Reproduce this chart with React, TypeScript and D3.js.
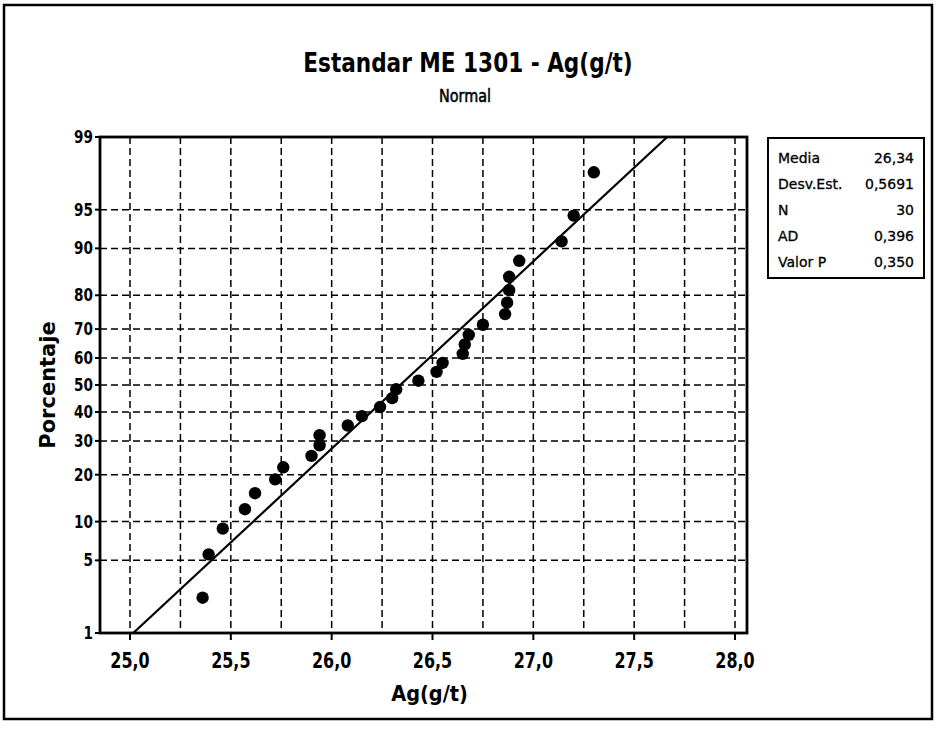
import React from "react";
import * as d3 from "d3";

// ---- data ----
const agValues = [25.36, 25.39, 25.46, 25.57, 25.62, 25.72, 25.76, 25.90, 25.94, 25.94, 26.08, 26.15, 26.24, 26.30, 26.32, 26.43, 26.52, 26.55, 26.65, 26.66, 26.68, 26.75, 26.86, 26.87, 26.88, 26.88, 26.93, 27.14, 27.20, 27.30];
const percentValues = [2.3, 5.6, 8.9, 12.2, 15.5, 18.8, 22.0, 25.3, 28.6, 31.9, 35.2, 38.5, 41.8, 45.1, 48.4, 51.6, 54.9, 58.2, 61.5, 64.8, 68.1, 71.4, 74.7, 78.0, 81.3, 84.5, 87.8, 91.1, 94.4, 97.7];
const xTicks = [25.0, 25.5, 26.0, 26.5, 27.0, 27.5, 28.0];
const xGrid = [25.0, 25.25, 25.5, 25.75, 26.0, 26.25, 26.5, 26.75, 27.0, 27.25, 27.5, 27.75, 28.0];
const yTicks = [1, 5, 10, 20, 30, 40, 50, 60, 70, 80, 90, 95, 99];
const yGrid = [5, 10, 20, 30, 40, 50, 60, 70, 80, 90, 95];
const statLabels = ["Media", "Desv.Est.", "N", "AD", "Valor P"];
const statValues = ["26,34", "0,5691", "30", "0,396", "0,350"];
const fitMean = 26.34;
const fitSd = 0.5691;
const titleText = "Estandar ME 1301 - Ag(g/t)";
const subtitleText = "Normal";
const xTitle = "Ag(g/t)";
const yTitle = "Porcentaje";

// inverse normal CDF (Acklam)
function probit(p: number): number {
  const a = [-3.969683028665376e1, 2.209460984245205e2, -2.759285104469687e2, 1.38357751867269e2, -3.066479806614716e1, 2.506628277459239];
  const b = [-5.447609879822406e1, 1.615858368580409e2, -1.556989798598866e2, 6.680131188771972e1, -1.328068155288572e1];
  const c = [-7.784894002430293e-3, -3.223964580411365e-1, -2.400758277161838, -2.549732539343734, 4.374664141464968, 2.938163982698783];
  const d = [7.784695709041462e-3, 3.224671290700398e-1, 2.445134137142996, 3.754408661907416];
  const pl = 0.02425;
  if (p < pl) {
    const q = Math.sqrt(-2 * Math.log(p));
    return (((((c[0] * q + c[1]) * q + c[2]) * q + c[3]) * q + c[4]) * q + c[5]) / ((((d[0] * q + d[1]) * q + d[2]) * q + d[3]) * q + 1);
  }
  if (p > 1 - pl) {
    const q = Math.sqrt(-2 * Math.log(1 - p));
    return -(((((c[0] * q + c[1]) * q + c[2]) * q + c[3]) * q + c[4]) * q + c[5]) / ((((d[0] * q + d[1]) * q + d[2]) * q + d[3]) * q + 1);
  }
  const q = p - 0.5;
  const r = q * q;
  return ((((((a[0] * r + a[1]) * r + a[2]) * r + a[3]) * r + a[4]) * r + a[5]) * q) / (((((b[0] * r + b[1]) * r + b[2]) * r + b[3]) * r + b[4]) * r + 1);
}

const W = 937;
const H = 740;
const plotL = 100, plotR = 747, plotT = 137, plotB = 633;
const FONT = "'DejaVu Sans', Verdana, sans-serif";

const fmtComma = (v: number) => d3.format(".1f")(v).replace(".", ",");

function T(props: { x: number; y: number; sx?: number; anchor?: string; size: number; weight?: string; rotate?: number; children: React.ReactNode; stroke?: number }) {
  const { x, y, sx = 1, anchor = "start", size, weight = "normal", rotate = 0, children, stroke = 0 } = props;
  return (
    <text
      transform={`translate(${x},${y}) rotate(${rotate}) scale(${sx},1)`}
      textAnchor={anchor}
      fontSize={size}
      fontWeight={weight}
      fontFamily={FONT}
      fill="#000"
      stroke={stroke ? "#000" : "none"}
      strokeWidth={stroke}
    >
      {children}
    </text>
  );
}

export default function App() {
  const x = d3.scaleLinear().domain([25, 28]).range([130, 735]);
  const zMin = probit(0.01);
  const zMax = probit(0.99);
  const y = d3.scaleLinear().domain([zMin, zMax]).range([plotB, plotT]);
  const yp = (pct: number) => y(probit(pct / 100));

  const fitLine = d3.line<number>()
    .x((z) => x(fitMean + fitSd * z))
    .y((z) => y(z));

  const points = agValues.map((v, i) => ({ v, p: percentValues[i] }));

  return (
    <svg width={W} height={H} style={{ position: "absolute", left: 0, top: 0, background: "#fff" }}>
      <rect x={0} y={0} width={W} height={H} fill="#fff" />
      <rect x={4} y={5} width={928} height={714} fill="none" stroke="#000" strokeWidth={2.5} />

      {/* titles */}
      <T x={468} y={72} anchor="middle" size={27} weight="bold" sx={0.8}>{titleText}</T>
      <T x={465} y={102} anchor="middle" size={18} sx={0.8} stroke={0.6}>{subtitleText}</T>

      <defs>
        <clipPath id="plotclip">
          <rect x={plotL} y={plotT} width={plotR - plotL} height={plotB - plotT} />
        </clipPath>
      </defs>

      {/* grid */}
      <g stroke="#000" strokeWidth={1.5} strokeDasharray="7,4">
        {xGrid.map((g) => (
          <line key={"xg" + g} x1={x(g)} x2={x(g)} y1={plotT} y2={plotB} />
        ))}
        {yGrid.map((g) => (
          <line key={"yg" + g} x1={plotL} x2={plotR} y1={yp(g)} y2={yp(g)} />
        ))}
      </g>

      {/* fitted line */}
      <g clipPath="url(#plotclip)">
        <path d={fitLine([zMin, zMax]) || ""} fill="none" stroke="#000" strokeWidth={2.2} />
      </g>

      {/* points */}
      {points.map((d, i) => (
        <circle key={i} cx={x(d.v)} cy={yp(d.p)} r={6.2} fill="#000" />
      ))}

      {/* frame */}
      <rect x={plotL} y={plotT} width={plotR - plotL} height={plotB - plotT} fill="none" stroke="#000" strokeWidth={2.8} />

      {/* x ticks */}
      {xTicks.map((t) => (
        <g key={"xt" + t}>
          <line x1={x(t)} x2={x(t)} y1={plotB} y2={plotB + 7} stroke="#000" strokeWidth={2} />
          <T x={x(t)} y={668} anchor="middle" size={21} weight="bold" sx={0.76}>{fmtComma(t)}</T>
        </g>
      ))}

      {/* y ticks */}
      {yTicks.map((t) => (
        <g key={"yt" + t}>
          <line x1={plotL - 5} x2={plotL} y1={yp(t)} y2={yp(t)} stroke="#000" strokeWidth={2} />
          <T x={93} y={yp(t) + 6} anchor="end" size={17} weight="bold" sx={0.8}>{t}</T>
        </g>
      ))}

      {/* axis titles */}
      <T x={(plotL + plotR) / 2 + 6} y={701} anchor="middle" size={22} weight="bold" sx={0.88}>{xTitle}</T>
      <T x={55} y={(plotT + plotB) / 2} anchor="middle" size={21} weight="bold" rotate={-90}>{yTitle}</T>

      {/* stats box */}
      <rect x={768} y={138} width={156} height={140} fill="#fff" stroke="#000" strokeWidth={2} />
      {statLabels.map((s, i) => (
        <g key={"st" + s}>
          <T x={778} y={163 + i * 26} size={14} stroke={0.3}>{s}</T>
          <T x={914} y={163 + i * 26} anchor="end" size={14} stroke={0.3}>{statValues[i]}</T>
        </g>
      ))}
    </svg>
  );
}
